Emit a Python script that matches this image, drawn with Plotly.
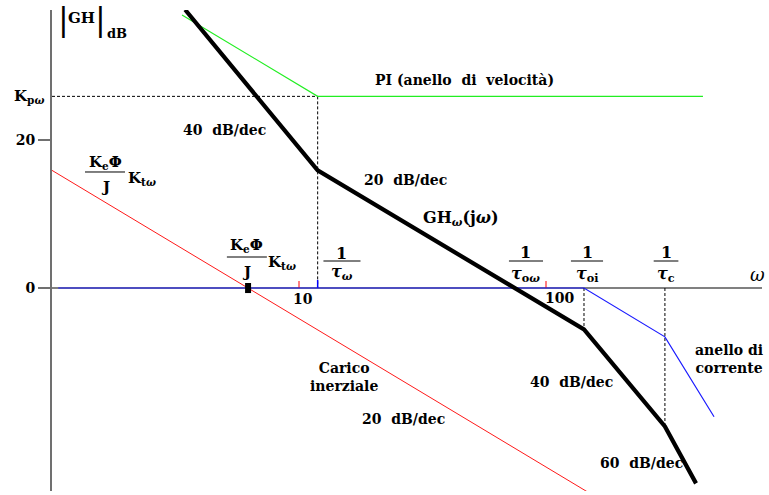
import numpy as np
import plotly.graph_objects as go

# ---- asymptotic Bode data (omega in rad/s, magnitude in dB) ----
K_pw = 25.9          # PI gain level  K_pω
K_tw = 15.9          # load line at ω = 1
w_tw = 11.9          # 1/τ_ω
w_oi = 142.5         # 1/τ_oi
w_c = 303.0          # 1/τ_c
w_load0 = 6.22       # load line crossing 0 dB

omega_load = [1.0, 155.0]
db_load = [15.9, -28.0]

omega_pi = [3.36, 11.9, 432.0]
db_pi = [36.9, 25.9, 25.9]

omega_gh = [3.46, 11.9, 142.5, 303.0, 405.0]
db_gh = [37.6, 15.9, -5.6, -18.7, -26.4]

omega_cur = [1.06, 142.5, 303.0, 479.0]
db_cur = [0.0, 0.0, -6.6, -17.4]

SERIF = "DejaVu Serif"
fig = go.Figure()


def seg(x, y, color, width, dash=None):
    fig.add_trace(go.Scatter(x=x, y=y, mode="lines", hoverinfo="skip",
                             line=dict(color=color, width=width, dash=dash),
                             showlegend=False, cliponaxis=False))


# guide lines (dashed)
seg([1.0, w_tw], [K_pw, K_pw], "black", 1, "3px,2px")
seg([w_tw, w_tw], [K_pw, 0], "black", 1, "3px,2px")
seg([w_oi, w_oi], [0, db_gh[2]], "black", 1, "3px,2px")
seg([w_c, w_c], [0, db_gh[3]], "black", 1, "3px,2px")

# decade ticks on the ω axis
for d in (10.0, 100.0):
    seg([d, d], [0, 0.95], "red", 1)
seg([w_tw, w_tw], [0, 1.1], "blue", 1.5)

# curves
seg(omega_load, db_load, "#ff1a1a", 1)
seg(omega_pi, db_pi, "#22ee22", 1.2)
seg(omega_cur, db_cur, "#1a1aff", 1.2)
seg(omega_gh, db_gh, "black", 4.2)

# marker where the load line crosses 0 dB
seg([w_load0, w_load0], [-0.68, 0.68], "black", 6)


def bar(center_log, half_dec, y):
    seg([10 ** (center_log - half_dec), 10 ** (center_log + half_dec)], [y, y], "black", 1)


ann = []


def text(x, y, s, size=14, anchor="center", bold=True, ref="x"):
    ann.append(dict(x=x, y=y, xref=ref, yref="y", text=s, showarrow=False,
                    xanchor=anchor, yanchor="middle",
                    font=dict(family=SERIF, size=size, color="black",
                              weight="bold" if bold else "normal")))


# fractions 1/τ
fracs = [(1.174, 0.075, "<i>τ</i><sub><i>ω</i></sub>", 4.73, 3.65, 2.16),
         (1.919, 0.069, "<i>τ</i><sub>o<i>ω</i></sub>", 4.86, 3.65, 1.76),
         (2.166, 0.065, "<i>τ</i><sub>oi</sub>", 4.86, 3.65, 1.76),
         (2.486, 0.050, "<i>τ</i><sub>c</sub>", 4.86, 3.65, 1.76)]
for cx, hw, den, yn, yb, yj in fracs:
    text(cx, yn, "1", 16)
    bar(cx, hw, yb)
    text(cx, yj, den, 16)

# K_eΦ/J K_tω labels
for cx, yn, yb, yj, kx, ky in [(0.2146, 17.0, 15.68, 13.65, 0.300, 14.86),
                               (0.789, 5.68, 4.19, 2.16, 0.866, 3.51)]:
    text(cx, yn, "K<sub>e</sub>Φ", 15)
    bar(cx, 0.081, yb)
    text(cx, yj, "J", 15)
    text(kx, ky, "K<sub>t<i>ω</i></sub>", 15, "left")

# magnitude label |GH|_dB
text(0.045, 36.3, "|", 32, bold=False)
text(0.196, 36.3, "|", 32, bold=False)
text(0.121, 36.5, "GH", 15)
text(0.262, 34.4, "dB", 13)

# K_pω on the left of the axis
ann.append(dict(x=0, y=K_pw, xref="paper", yref="y", xanchor="right", yanchor="middle",
                xshift=-6, showarrow=False, text="K<sub>p<i>ω</i></sub>",
                font=dict(family=SERIF, size=15, color="black", weight="bold")))

text(0.700, 21.35, "40\u00a0\u00a0dB/dec", 14)
text(1.433, 14.6, "20\u00a0\u00a0dB/dec", 14)
text(1.300, 28.1, "PI\u00a0(anello\u00a0\u00a0di\u00a0\u00a0velocità)", 14, "left")
text(1.656, 9.46, "GH<sub><i>ω</i></sub>(j<i>ω</i>)", 16)
text(1.036, -12.0, "Carico<br>inerziale", 14, "left")
text(1.425, -17.7, "20\u00a0\u00a0dB/dec", 14)
text(2.105, -12.7, "40\u00a0\u00a0dB/dec", 14)
text(2.385, -23.65, "60\u00a0\u00a0dB/dec", 14)
text(2.595, -9.6, "anello\u00a0di<br>corrente", 14, "left")
text(2.858, 1.76, "<i>ω</i>", 18, bold=False)
text(1.016, -1.49, "10", 14)
text(2.053, -1.35, "100", 14)

fig.update_layout(
    width=769, height=495,
    margin=dict(l=52, r=7, t=10, b=4),
    paper_bgcolor="white", plot_bgcolor="white",
    annotations=ann,
    xaxis=dict(type="log", range=[0, 2.8745], showgrid=False, showline=False,
               zeroline=False, showticklabels=False, ticks=""),
    yaxis=dict(range=[-27.43, 37.57], showgrid=False, showline=True,
               linecolor="#707070", linewidth=2, ticks="outside", ticklen=12,
               tickwidth=1.5, tickcolor="#707070", tickvals=[0, 20],
               ticktext=["0", "20"], ticklabelstandoff=0,
               tickfont=dict(family=SERIF, size=14, color="black", weight="bold"),
               zeroline=True, zerolinecolor="#808080", zerolinewidth=1.5),
)

fig.write_html("out.html")
